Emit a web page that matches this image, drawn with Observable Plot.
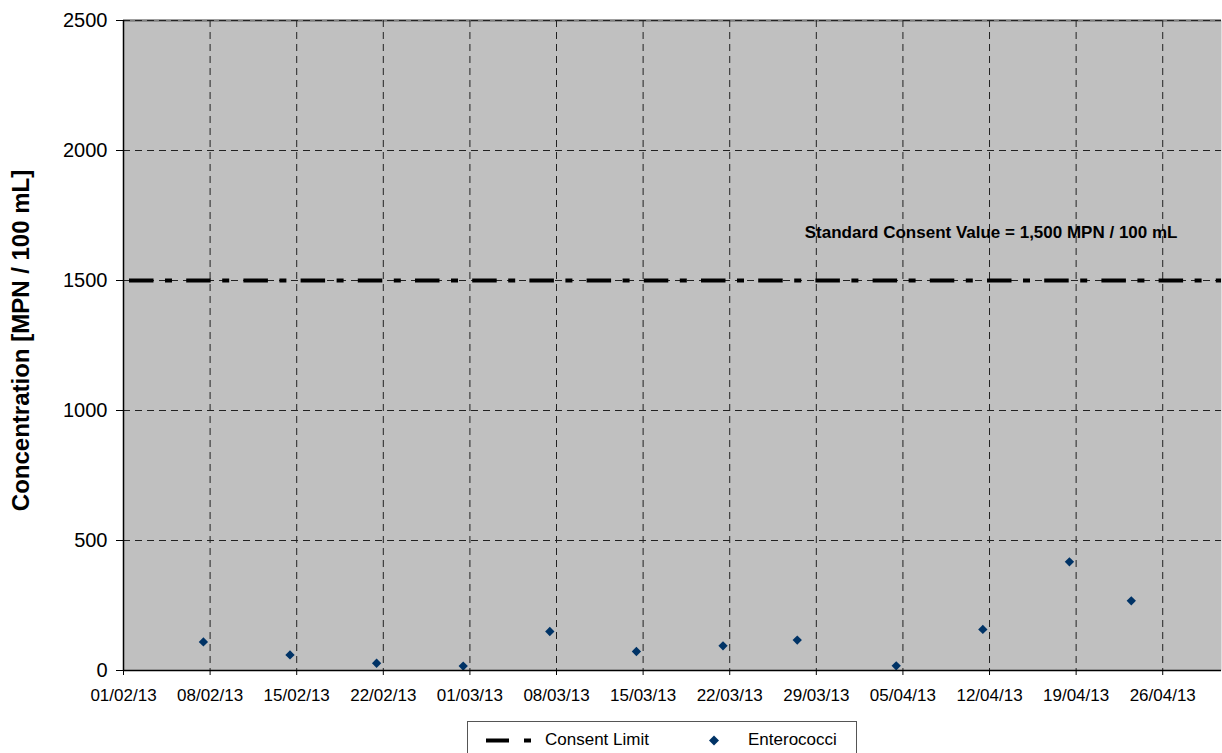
<!DOCTYPE html>
<html><head><meta charset="utf-8">
<script src="https://cdn.jsdelivr.net/npm/d3@7"></script>
<script src="https://cdn.jsdelivr.net/npm/@observablehq/plot@0.6"></script>
<style>
body{margin:0;background:#fff;width:1222px;height:753px;overflow:hidden;position:relative;font-family:"Liberation Sans",Arial,sans-serif;}
#chart{position:absolute;left:0;top:0;}
#legend{position:absolute;left:467px;top:721px;width:388px;height:40px;border:1px solid #555;background:#fff;}
#legend span{position:absolute;top:8px;font-size:17px;line-height:20px;color:#000;white-space:nowrap;}
</style></head><body>
<div id="chart"></div>
<div id="legend">
  <svg width="388" height="40" style="position:absolute;left:0;top:0">
    <line x1="18" x2="63" y1="18.5" y2="18.5" stroke="#000" stroke-width="4" stroke-dasharray="23,15,7,100"></line>
    <path d="M246,13.5L251,18.5L246,23.5L241,18.5Z" fill="#003366"></path>
  </svg>
  <span id="l1" style="left:77px">Consent Limit</span>
  <span id="l2" style="left:280px">Enterococci</span>
</div>
<script>
// Sample dates (UTC) and Enterococci concentrations [MPN / 100 mL]
const sampleDates = ["2013-02-07T11:00Z","2013-02-14T11:00Z","2013-02-21T11:00Z","2013-02-28T11:00Z",
  "2013-03-07T11:00Z","2013-03-14T11:00Z","2013-03-21T11:00Z","2013-03-27T11:00Z",
  "2013-04-04T11:00Z","2013-04-11T11:00Z","2013-04-18T11:00Z","2013-04-23T11:00Z"];
const enterococci = [110, 60, 28, 17, 150, 73, 95, 117, 18, 158, 418, 268];
const tickDates = ["2013-02-01","2013-02-08","2013-02-15","2013-02-22","2013-03-01","2013-03-08",
  "2013-03-15","2013-03-22","2013-03-29","2013-04-05","2013-04-12","2013-04-19","2013-04-26"];
const yTicks = [0, 500, 1000, 1500, 2000, 2500];
const xDomain = ["2013-02-01T00:00Z", "2013-04-30T18:00Z"];
const yDomain = [0, 2500];
const consentLimit = [1500];
const annotation = ["Standard Consent Value = 1,500 MPN / 100 mL"];
const yLabel = ["Concentration [MPN / 100 mL]"];

const parse = s => new Date(s.length === 10 ? s + "T00:00Z" : s);
const data = sampleDates.map((d, i) => ({date: parse(d), value: enterococci[i]}));
const ticks = tickDates.map(parse);
const fmt = d3.utcFormat("%d/%m/%y");
const font = '"Liberation Sans", Arial, sans-serif';

const chart = Plot.plot({
  width: 1222, height: 712,
  marginLeft: 123, marginRight: 1, marginTop: 20, marginBottom: 42,
  style: {fontFamily: font, background: "#fff", color: "#000", overflow: "visible"},
  x: {type: "utc", domain: xDomain.map(parse)},
  y: {domain: yDomain},
  marks: [
    Plot.frame({fill: "#c0c0c0", stroke: null}),
    Plot.ruleY([yDomain[1]], {stroke: "#808080", strokeWidth: 2.5}),
    Plot.gridX({ticks, stroke: "#222", strokeOpacity: 1, strokeDasharray: "7,5"}),
    Plot.gridY({ticks: yTicks.slice(1), stroke: "#222", strokeOpacity: 1, strokeDasharray: "7,5"}),
    Plot.ruleY(consentLimit, {stroke: "#000", strokeWidth: 4, strokeDasharray: "24.5,11.5,7,14.2", insetLeft: 6}),
    Plot.text(annotation, {frameAnchor: "top-right", dx: -44, dy: 212, textAnchor: "end", lineAnchor: "middle", fontSize: 17, fontWeight: "bold", fill: "#000"}),
    Plot.dot(data, {x: "date", y: "value", symbol: "diamond2", r: 4.2, fill: "#003366", stroke: null}),
    Plot.ruleX([parse(xDomain[0])], {stroke: "#000", strokeWidth: 1.5}),
    Plot.ruleY([yDomain[0]], {stroke: "#000", strokeWidth: 1.5}),
    Plot.axisX({ticks, tickFormat: fmt, fontSize: 17, tickSize: 5, tickPadding: 13, label: null, stroke: "#000"}),
    Plot.axisY({ticks: yTicks, tickFormat: d => String(d), fontSize: 20, tickSize: 7, tickPadding: 9, label: null, stroke: "#000"}),
    Plot.text(yLabel, {frameAnchor: "left", rotate: -90, dx: -102, dy: -5, textAnchor: "middle", lineAnchor: "middle", fontSize: 24, fontWeight: "bold", fill: "#000"})
  ]
});
document.getElementById("chart").appendChild(chart);
</script>
</body></html>
